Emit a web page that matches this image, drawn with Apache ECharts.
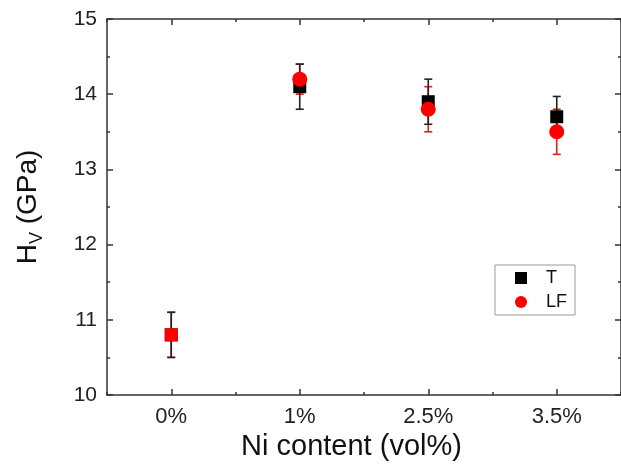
<!DOCTYPE html>
<html>
<head>
<meta charset="utf-8">
<script src="https://cdn.jsdelivr.net/npm/echarts@6/dist/echarts.min.js"></script>
<style>
  html, body { margin: 0; padding: 0; background: #fff; }
  #chart { width: 621px; height: 468px; }
</style>
</head>
<body>
<div id="chart"></div>
<script>
// Ni content categories
var categories = ['0%', '1%', '2.5%', '3.5%'];
// hardness, T samples
var tMean = [10.8, 14.1, 13.9, 13.7];
var tErr = [0.3, 0.3, 0.3, 0.27];
// hardness, LF samples
var lfMean = [10.8, 14.2, 13.8, 13.5];
var lfErr = [0.3, 0.2, 0.3, 0.3];
var yTicks = [10, 11, 12, 13, 14, 15];

var font = '"Liberation Sans", Arial, sans-serif';
var axisColor = '#333';

function pts(means) {
  return means.map(function (v, i) { return [i, v]; });
}
function bars(means, errs) {
  return means.map(function (v, i) { return [i, v - errs[i], v + errs[i]]; });
}
function errorBar(color) {
  return function (params, api) {
    var x = api.value(0);
    var lo = api.coord([x, api.value(1)]);
    var hi = api.coord([x, api.value(2)]);
    var c = 4;
    var st = { stroke: color, lineWidth: 1.6 };
    return {
      type: 'group',
      children: [
        { type: 'line', shape: { x1: hi[0], y1: hi[1], x2: lo[0], y2: lo[1] }, style: st },
        { type: 'line', shape: { x1: hi[0] - c, y1: hi[1], x2: hi[0] + c, y2: hi[1] }, style: st },
        { type: 'line', shape: { x1: lo[0] - c, y1: lo[1], x2: lo[0] + c, y2: lo[1] }, style: st }
      ]
    };
  };
}

function xAxisDef(pos, major) {
  return {
    type: 'category',
    data: categories,
    position: pos,
    boundaryGap: true,
    axisLine: { show: major, lineStyle: { color: axisColor, width: 1.5 } },
    axisTick: {
      show: true, inside: true, alignWithLabel: major,
      length: major ? 6 : 3,
      lineStyle: { color: axisColor, width: 1.5 }
    },
    axisLabel: {
      show: major && pos === 'bottom',
      color: '#222', fontSize: 22, fontFamily: font, margin: 11
    },
    splitLine: { show: false }
  };
}
function yAxisDef(pos) {
  return {
    type: 'value',
    position: pos,
    min: yTicks[0],
    max: yTicks[yTicks.length - 1],
    interval: 1,
    axisLine: { show: true, lineStyle: { color: axisColor, width: 1.5 } },
    axisTick: { show: true, inside: true, length: 6, lineStyle: { color: axisColor, width: 1.5 } },
    minorTick: { show: true, splitNumber: 2, length: 3, lineStyle: { color: axisColor, width: 1.5 } },
    axisLabel: { show: pos === 'left', color: '#222', fontSize: 21, fontFamily: font, margin: 10 },
    splitLine: { show: false },
    minorSplitLine: { show: false }
  };
}

var xMain = xAxisDef('bottom', true);
xMain.name = 'Ni content (vol%)';
xMain.nameLocation = 'middle';
xMain.nameGap = 37;
xMain.nameTextStyle = { color: '#111', fontSize: 29, fontFamily: font, padding: [0, 25, 0, 0] };

var yMain = yAxisDef('left');
yMain.name = '{a|H}{b|V}{a| (GPa)}';
yMain.nameLocation = 'middle';
yMain.nameGap = 61;
yMain.nameTextStyle = {
  rich: {
    a: { color: '#111', fontSize: 28, fontFamily: font, lineHeight: 36, verticalAlign: 'middle' },
    b: { color: '#111', fontSize: 18, fontFamily: font, lineHeight: 36, verticalAlign: 'bottom' }
  }
};

var chart = echarts.init(document.getElementById('chart'));
chart.setOption({
  animation: false,
  backgroundColor: '#fff',
  grid: { left: 107, top: 19, width: 517, bottom: 73 },
  legend: {
    orient: 'vertical',
    left: 495,
    top: 265,
    padding: [4, 8, 4, 20],
    itemGap: 6,
    itemWidth: 12,
    itemHeight: 12,
    borderColor: '#999',
    borderWidth: 1,
    textStyle: { color: '#111', fontSize: 18, fontFamily: font, padding: [0, 20, 0, 14] },
    data: [
      { name: 'T', icon: 'rect' },
      { name: 'LF', icon: 'circle' }
    ]
  },
  xAxis: [xMain, xAxisDef('bottom', false), xAxisDef('top', true), xAxisDef('top', false)],
  yAxis: [yMain, yAxisDef('right')],
  series: [
    {
      name: 'LF err', type: 'custom', renderItem: errorBar('#e0201b'),
      data: bars(lfMean, lfErr), z: 2
    },
    {
      name: 'T err', type: 'custom', renderItem: errorBar('#222'),
      data: bars(tMean, tErr), z: 3
    },
    {
      name: 'T', type: 'scatter', symbol: 'rect', symbolSize: 13,
      itemStyle: { color: '#000', opacity: 1 },
      data: pts(tMean), z: 4
    },
    {
      name: 'LF', type: 'scatter', symbol: 'circle', symbolSize: 15,
      itemStyle: { color: '#ff0000', opacity: 1 },
      data: pts(lfMean).map(function (p, i) {
        return i === 0 ? { value: p, symbol: 'rect', symbolSize: 13 } : p;
      }),
      z: 5
    }
  ]
});
</script>
</body>
</html>
